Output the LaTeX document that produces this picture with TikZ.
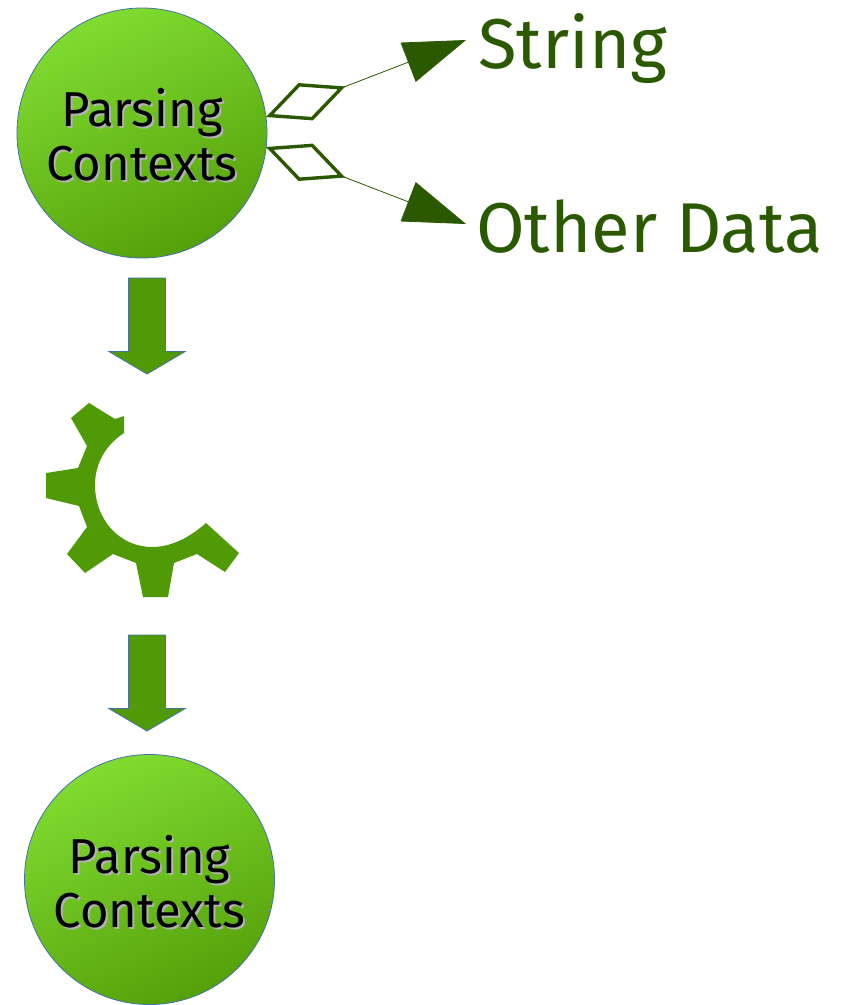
\documentclass[tikz,border=0pt]{standalone}
\usepackage{fontspec}
\setmainfont{Fira Sans}
\usetikzlibrary{arrows.meta,shapes.arrows}
\definecolor{ctxlight}{HTML}{80DC30}
\definecolor{ctxdark}{HTML}{55A00A}
\definecolor{ctxedge}{HTML}{4472A4}
\definecolor{stepgreen}{HTML}{4F9A06}
\definecolor{datagreen}{HTML}{2B5900}
\tikzset{
  ctxcircle/.style={circle,draw=ctxedge,line width=0.8pt,minimum size=250pt,inner sep=0pt,
    top color=ctxlight,bottom color=ctxdark,shading angle=25},
  ctxlabel/.style={align=center,font=\fontsize{49}{54}\selectfont,inner sep=0pt},
  ctxshadow/.style={ctxlabel,text=black!30},
  flowarrow/.style={single arrow,draw=ctxedge,fill=stepgreen,line width=0.8pt,rotate=-90,anchor=tip,
    minimum height=96pt,minimum width=76pt,inner sep=18pt,outer sep=0pt,
    single arrow head extend=19.5pt,single arrow tip angle=119},
  datalabel/.style={text=datagreen,font=\fontsize{70.5}{71}\selectfont,anchor=base west,inner sep=0pt},
  holds/.style={draw=datagreen,line width=0.8pt,
    {Diamond[open,length=85pt,width=40pt,line width=3.4pt]}-{Triangle[length=62pt,width=42pt,fill=datagreen]}}
}
\begin{document}
\begin{tikzpicture}[x=1pt,y=1pt]
  \useasboundingbox (0,0) rectangle (842,-1005);
  % top context
  \node[ctxcircle] (ctxa) at (142,-133) {};
  \node[ctxshadow] at (144,-137) {Parsing\\Contexts};
  \node[ctxlabel] (ctxatext) at (142,-135) {Parsing\\Contexts};
  % what it holds
  \node[datalabel] (string) at (478,-68) {String};
  \node[datalabel] (other) at (476,-252) {Other Data};
  \coordinate (holda) at (266,-117);
  \coordinate (holdb) at (266,-147);
  \coordinate (tipa) at (466,-40);
  \coordinate (tipb) at (466,-224);
  \draw[holds] (holda) -- (tipa);
  \draw[holds] (holdb) -- (tipb);
  % down arrows
  \node[flowarrow] (flowa) at (147,-374) {};
  \node[flowarrow] (flowb) at (147,-731) {};
  % cog
  \fill[stepgreen] (124,-416) -- (115,-419) -- (89,-403) -- (71,-418) -- (87,-446) -- (78,-468)
    -- (46,-473) -- (46,-498) -- (79,-506) -- (87,-527) -- (67,-554) -- (85,-573) -- (113,-554)
    -- (136,-563) -- (143,-597) -- (168,-597) -- (174,-563) -- (197,-554) -- (225,-572)
    -- (239,-553) -- (206,-523) .. controls (190,-537) and (172,-547) .. (152,-547)
    .. controls (120,-547) and (95,-520) .. (95,-485)
    .. controls (95,-462) and (107,-444) .. (124,-433) -- cycle;
  % bottom context
  \node[ctxcircle] (ctxb) at (149.5,-879.5) {};
  \node[ctxshadow] at (151.5,-883.5) {Parsing\\Contexts};
  \node[ctxlabel] (ctxbtext) at (149.5,-881.5) {Parsing\\Contexts};
\end{tikzpicture}
\end{document}
